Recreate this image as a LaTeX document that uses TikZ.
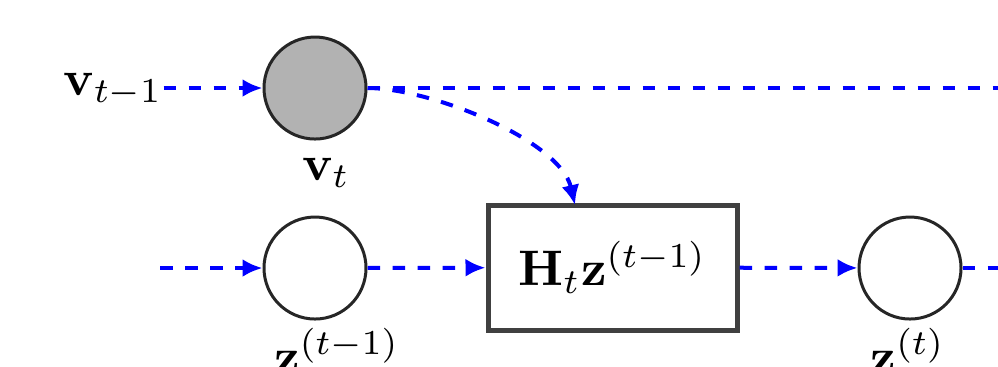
\documentclass[tikz,border=0pt]{standalone}
\usetikzlibrary{arrows.meta,calc}
\begin{document}
\begin{tikzpicture}[x=0.2pt,y=-0.2pt,
  conn/.style={blue, line width=0.8pt, dash pattern=on 2.5pt off 2.5pt},
  arr/.style={conn, -{Latex[length=4pt,width=3.6pt]}},
  state/.style={circle, draw=black!85, line width=0.6pt, minimum size=20.4pt, inner sep=0pt},
  obs/.style={state, fill=black!30},
  opbox/.style={draw=black!75, line width=1pt, minimum width=49.8pt, minimum height=25pt, inner sep=0pt},
  lab/.style={anchor=base, inner sep=0pt}]
\useasboundingbox (0,0) rectangle (998,366);
% nodes
\node[obs] (vt) at (315,88) {};
\node[lab] (vtm1) at (113,95) {$\mathbf{v}_{t-1}$};
\node[lab] (vtl) at (326,180) {$\mathbf{v}_t$};
\node[state] (zp) at (315,268) {};
\node[lab] (zpl) at (337,373) {$\mathbf{z}^{(t-1)}$};
\node[opbox] (H) at (612.5,267.5) {$\mathbf{H}_t\mathbf{z}^{(t-1)}$};
\node[state] (zc) at (910,268) {};
\node[lab] (zcl) at (908,373) {$\mathbf{z}^{(t)}$};
% free ends
\coordinate (zin) at (160,268);
\coordinate (vout) at (998,88);
\coordinate (zout) at (998,268);
\coordinate (hin) at (575,205);
% connectors
\draw[arr] (vtm1.east |- vt) -- (vt);
\draw[conn] (vt) -- (vout);
\draw[arr] (vt.east) .. controls (430,88) and (560,140) .. (hin);
\draw[arr] (zin) -- (zp);
\draw[arr] (zp) -- (H);
\draw[arr] (H) -- (zc);
\draw[conn] (zc) -- (zout);
\end{tikzpicture}
\end{document}
